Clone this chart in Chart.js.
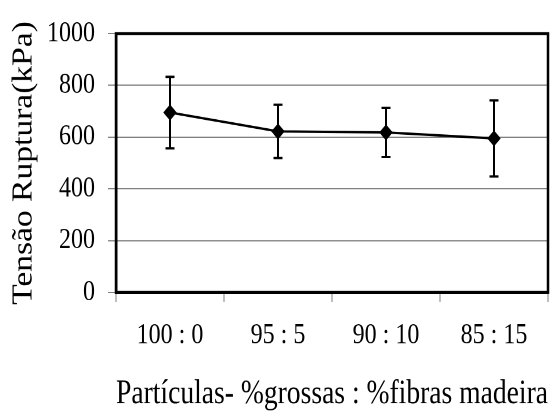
<!DOCTYPE html>
<html>
<head>
<meta charset="utf-8">
<script src="https://cdn.jsdelivr.net/npm/chart.js@4.4.0/dist/chart.umd.min.js"></script>
<style>
  html, body { margin: 0; padding: 0; background: #fff; }
  body { width: 555px; height: 417px; overflow: hidden; }
  /* the reference is a little taller than wide in its lettering, so stretch vertically */
  #wrap { width: 555px; height: 348px; transform: scaleY(1.1983); transform-origin: 0 0; }
</style>
</head>
<body>
<div id="wrap"><canvas id="myChart"></canvas></div>
<script>
// data
const categories = ['100 : 0', '95 : 5', '90 : 10', '85 : 15'];
const values = [695, 622, 618, 595];   // Tensão Ruptura (kPa)
const errors = [138, 103, 95, 147];    // +/- desvio
const yTicks = [0, 200, 400, 600, 800, 1000];

const serif = "'Liberation Serif', 'Times New Roman', serif";

// error bars + box round the plot area
const frameAndErrors = {
  id: 'frameAndErrors',
  beforeDatasetsDraw(chart) {
    const { ctx, chartArea: a, scales: { x, y } } = chart;
    ctx.save();
    ctx.strokeStyle = '#000';
    ctx.lineWidth = 2.5;
    ctx.strokeRect(a.left, a.top, a.right - a.left, a.bottom - a.top);

    ctx.lineWidth = 2;
    values.forEach((v, i) => {
      const px = x.getPixelForValue(i);
      const hi = y.getPixelForValue(v + errors[i]);
      const lo = y.getPixelForValue(v - errors[i]);
      ctx.beginPath();
      ctx.moveTo(px, hi); ctx.lineTo(px, lo);
      ctx.moveTo(px - 4.5, hi); ctx.lineTo(px + 4.5, hi);
      ctx.moveTo(px - 4.5, lo); ctx.lineTo(px + 4.5, lo);
      ctx.stroke();
    });
    ctx.restore();
  }
};

let ctx = document.getElementById('myChart').getContext('2d');
let chart = new Chart(ctx, {
  type: 'line',
  data: {
    labels: categories,
    datasets: [{
      data: values,
      borderColor: '#000',
      borderWidth: 2,
      backgroundColor: '#000',
      pointStyle: 'rectRot',
      pointRadius: 6,
      pointBorderWidth: 1,
      pointBackgroundColor: '#000',
      pointBorderColor: '#000',
      tension: 0,
      fill: false
    }]
  },
  options: {
    responsive: true,
    maintainAspectRatio: false,
    devicePixelRatio: 2,
    animation: false,
    layout: { padding: { top: 28, right: 3.5, left: 0, bottom: 0 } },
    plugins: {
      legend: { display: false },
      tooltip: { enabled: false }
    },
    scales: {
      x: {
        offset: true,
        afterFit(scale) { scale.height = 104; },
        grid: {
          offset: true,
          drawOnChartArea: false,
          drawTicks: true,
          tickLength: 8,
          color: '#808080',
          lineWidth: 1
        },
        border: { display: true, color: '#000', width: 2.5 },
        ticks: {
          color: '#000',
          padding: 14,
          maxRotation: 0,
          font: { family: serif, size: 24 }
        },
        title: {
          display: true,
          text: 'Partículas- %grossas : %fibras madeira',
          color: '#000',
          padding: { top: 0, bottom: 5 },
          font: { family: serif, size: 28, lineHeight: 1 }
        }
      },
      y: {
        min: 0,
        max: 1000,
        afterFit(scale) { scale.width = 116; },
        afterBuildTicks(scale) { scale.ticks = yTicks.map(v => ({ value: v })); },
        grid: {
          color: '#808080',
          lineWidth: 1,
          tickLength: 8
        },
        border: { display: true, color: '#000', width: 2.5 },
        ticks: {
          color: '#000',
          padding: 13,
          font: { family: serif, size: 24 },
          callback: v => String(v)
        },
        title: {
          display: true,
          text: 'Tensão Ruptura(kPa)',
          color: '#000',
          padding: { top: 10, bottom: 0 },
          font: { family: serif, size: 28, lineHeight: 1 }
        }
      }
    }
  },
  plugins: [frameAndErrors]
});
</script>
</body>
</html>
